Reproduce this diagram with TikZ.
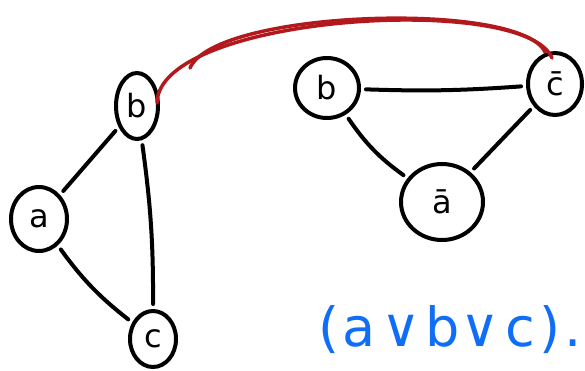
\documentclass[tikz,border=0pt]{standalone}
\usepackage{fontspec}
\setmainfont{DejaVu Sans}
\usetikzlibrary{shapes.geometric}
\definecolor{redarcc}{RGB}{178,24,28}
\definecolor{bluetext}{RGB}{15,110,245}
\begin{document}
\begin{tikzpicture}[x=1pt,y=-1pt,
  vtx/.style={draw=black, line width=4pt, ellipse, inner sep=0pt, font=\fontsize{32}{32}\selectfont},
  edge/.style={line width=4pt, line cap=round, shorten <=5pt, shorten >=5pt},
  redarc/.style={draw=redarcc, line width=3.5pt, line cap=round}
]
\useasboundingbox (0,0) rectangle (585,370);
% left graph
\node[vtx, minimum width=42pt, minimum height=66pt] (lb) at (137,106) {b};
\node[vtx, minimum width=56pt, minimum height=64pt] (la) at (39,219) {a};
\node[vtx, minimum width=46pt, minimum height=56pt] (lc) at (153,339) {c};
\draw[edge] (lb) -- (la);
\draw[edge] (lb) to[bend left=4] (lc);
\draw[edge] (la) to[bend right=8] (lc);
% right graph
\node[vtx, minimum width=64pt, minimum height=60pt] (rb) at (327,88) {b};
\node[vtx, minimum width=54pt, minimum height=62pt] (rc) at (555,84) {c̄};
\node[vtx, minimum width=82pt, minimum height=76pt] (ra) at (442,202) {ā};
\draw[edge] (rb) to[bend right=3] (rc);
\draw[edge] (rb) to[bend right=10] (ra);
\draw[edge] (ra) -- (rc);
% red connection
\coordinate (rs1) at (157,103);
\coordinate (rs2) at (190,68);
\coordinate (re1) at (552,58);
\coordinate (re2) at (545,52);
\draw[redarc] (rs1) .. controls (158,15) and (525,-8) .. (re1);
\draw[redarc] (rs2) .. controls (215,10) and (520,0) .. (re2);
% clause
\node[text=bluetext, font=\fontsize{54}{54}\selectfont, anchor=west, inner sep=0pt] (clause) at (318,330) {(\hspace{3pt}a\hspace{6pt}∨\hspace{5pt}b∨\hspace{6pt}c\hspace{4pt})\hspace{4pt}.};
\end{tikzpicture}
\end{document}
